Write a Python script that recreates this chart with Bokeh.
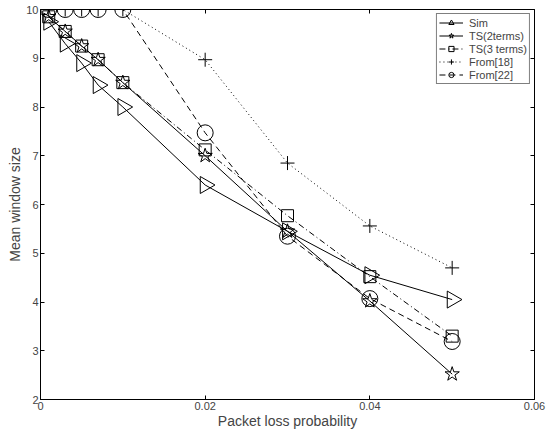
import math
from bokeh.plotting import figure
from bokeh.embed import file_html
from bokeh.resources import INLINE
from bokeh.models import FixedTicker, Range1d, LinearAxis

x = [0.001, 0.003, 0.005, 0.007, 0.01, 0.02, 0.03, 0.04, 0.05]
sim = [9.75, 9.3, 8.9, 8.45, 8.0, 6.4, 5.45, 4.55, 4.05]
ts2 = [9.85, 9.55, 9.25, 8.97, 8.5, 7.0, 5.45, 4.02, 2.52]
ts3 = [9.85, 9.55, 9.25, 8.97, 8.5, 7.12, 5.77, 4.52, 3.3]
from18 = [10, 10, 10, 10, 10, 8.97, 6.85, 5.56, 4.7]
from22 = [10, 10, 10, 10, 10, 7.47, 5.35, 4.07, 3.19]
xticks = [0, 0.02, 0.04, 0.06]
yticks = [2, 3, 4, 5, 6, 7, 8, 9, 10]

FONT = "Liberation Sans"

p = figure(width=546, height=438, output_backend="svg", toolbar_location=None,
           x_range=Range1d(0, 0.06), y_range=Range1d(2, 10),
           min_border_left=40, min_border_right=12, min_border_top=9, min_border_bottom=39)
p.xgrid.visible = False
p.ygrid.visible = False
p.outline_line_color = "black"
p.outline_line_width = 1
p.background_fill_color = "white"

bottom_ax = p.below[0]
left_ax = p.left[0]
# mirrored tick-only axes on top and right
top_ax = LinearAxis()
right_ax = LinearAxis()
p.add_layout(top_ax, "above")
p.add_layout(right_ax, "right")

for ax, tk in ((bottom_ax, xticks), (left_ax, yticks), (top_ax, xticks), (right_ax, yticks)):
    ax.ticker = FixedTicker(ticks=tk)
    ax.major_tick_in = 4
    ax.major_tick_out = 0
    ax.minor_tick_line_color = None
    ax.major_label_text_font = FONT
    ax.major_label_text_font_size = "11px"
    ax.major_label_standoff = 2
    ax.axis_label_text_font = FONT
    ax.axis_label_text_font_size = "14px"
    ax.axis_label_text_font_style = "normal"
    ax.axis_label_standoff = 0
    ax.axis_line_color = "black"
    ax.major_tick_line_color = "black"

for ax in (top_ax, right_ax):
    ax.major_label_text_font_size = "0px"
    ax.major_label_text_color = None
    ax.major_label_standoff = 0
    ax.axis_line_color = None

bottom_ax.major_label_overrides = {0: "0", 0.02: "0.02", 0.04: "0.04", 0.06: "0.06"}
bottom_ax.axis_label = "Packet loss probability"
left_ax.axis_label = "Mean window size"

series = [
    ("Sim", sim, "solid", "triangle", 17, -math.pi / 2),
    ("TS(2terms)", ts2, "solid", "star", 15, 0),
    ("TS(3 terms)", ts3, "6 3 1 3", "square", 12, 0),
    ("From[18]", from18, "1 3", "cross", 14, 0),
    ("From[22]", from22, "6 4", "circle", 16, 0),
]
for name, ys, dash, marker, size, ang in series:
    p.line(x, ys, line_color="black", line_width=1, line_dash=dash, legend_label=name)
    p.scatter(x, ys, marker=marker, size=size, angle=ang, fill_color=None,
              line_color="black", line_width=1, legend_label=name)

p.legend.location = "top_right"
p.legend.border_line_color = "black"
p.legend.border_line_width = 1
p.legend.label_text_font = FONT
p.legend.label_text_font_size = "11px"
p.legend.glyph_width = 24
p.legend.glyph_height = 13
p.legend.label_height = 13
p.legend.spacing = 0
p.legend.padding = 2
p.legend.margin = 4
p.legend.label_standoff = 6
p.legend.background_fill_alpha = 1

open("out.html", "w").write(file_html(p, INLINE))
